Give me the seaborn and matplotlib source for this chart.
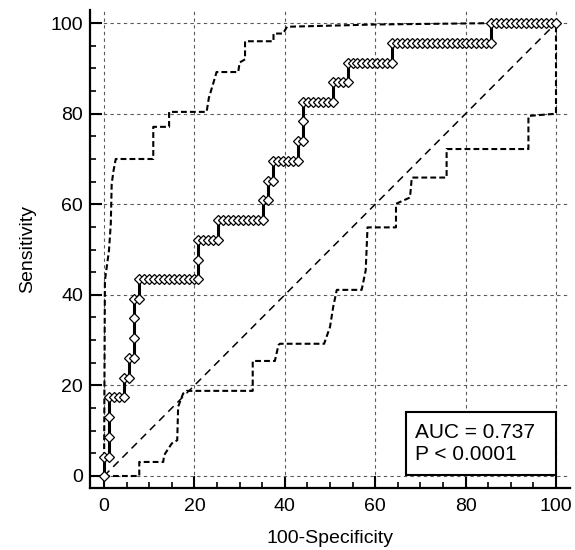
import matplotlib
matplotlib.use("Agg")
import matplotlib.pyplot as plt
import seaborn as sns
from matplotlib.patches import Rectangle
from matplotlib.ticker import MultipleLocator

# ROC curve points (100-Specificity, Sensitivity)
roc_fpr = [0, 0, 1.1, 1.1, 1.1, 1.1, 2.2, 3.3, 4.4, 4.4, 5.5, 5.5, 6.6, 6.6, 6.6, 6.6,
           7.7, 7.7, 8.8, 9.9, 11.0, 12.1, 13.2, 14.3, 15.4, 16.5, 17.6, 18.7, 19.8, 20.9,
           20.9, 20.9, 22.0, 23.1, 24.2, 25.3, 25.3, 26.4, 27.5, 28.6, 29.7, 30.8, 31.9,
           33.0, 34.1, 35.2, 35.2, 36.3, 36.3, 37.4, 37.4, 38.5, 39.6, 40.7, 41.8, 42.9,
           42.9, 44.0, 44.0, 44.0, 45.1, 46.2, 47.3, 48.4, 49.5, 50.6, 50.6, 51.7, 52.8,
           53.9, 53.9, 55.0, 56.0, 57.1, 58.2, 59.3, 60.4, 61.5, 62.6, 63.7, 63.7, 64.8,
           65.9, 67.0, 68.1, 69.2, 70.3, 71.4, 72.5, 73.6, 74.7, 75.8, 76.9, 78.0, 79.1,
           80.2, 81.3, 82.4, 83.5, 84.6, 85.7, 85.7, 86.8, 87.9, 89.0, 90.1, 91.2, 92.3,
           93.4, 94.5, 95.6, 96.7, 97.8, 98.9, 100.0]
roc_tpr = [0, 4.3, 4.3, 8.7, 13.0, 17.4, 17.4, 17.4, 17.4, 21.7, 21.7, 26.1, 26.1, 30.4, 34.8, 39.1,
           39.1, 43.5, 43.5, 43.5, 43.5, 43.5, 43.5, 43.5, 43.5, 43.5, 43.5, 43.5, 43.5, 43.5,
           47.8, 52.2, 52.2, 52.2, 52.2, 52.2, 56.5, 56.5, 56.5, 56.5, 56.5, 56.5, 56.5,
           56.5, 56.5, 56.5, 60.9, 60.9, 65.2, 65.2, 69.6, 69.6, 69.6, 69.6, 69.6, 69.6,
           73.9, 73.9, 78.3, 82.6, 82.6, 82.6, 82.6, 82.6, 82.6, 82.6, 87.0, 87.0, 87.0,
           87.0, 91.3, 91.3, 91.3, 91.3, 91.3, 91.3, 91.3, 91.3, 91.3, 91.3, 95.7, 95.7,
           95.7, 95.7, 95.7, 95.7, 95.7, 95.7, 95.7, 95.7, 95.7, 95.7, 95.7, 95.7, 95.7,
           95.7, 95.7, 95.7, 95.7, 95.7, 95.7, 100, 100, 100, 100, 100, 100, 100,
           100, 100, 100, 100, 100, 100, 100]

# upper confidence bound
upper_x = [0, 0.2, 0.6, 1.1, 1.5, 1.7, 2.1, 2.6, 10.9, 10.9, 14.4, 14.4, 22.7, 23.2, 24.2,
           24.9, 29.7, 30.0, 31.2, 31.2, 37.5, 37.5, 39.6, 40.5, 60.0, 86.0, 100]
upper_y = [0, 43.2, 46.1, 49.8, 55.7, 64.5, 67.4, 70.0, 70.0, 77.1, 77.1, 80.4, 80.4, 83.5, 86.8,
           89.2, 89.2, 91.3, 92.0, 96.0, 96.0, 97.7, 97.7, 99.2, 99.7, 100, 100]

# lower confidence bound
lower_x = [0, 7.8, 7.8, 13.1, 13.3, 15.0, 16.2, 16.4, 17.5, 18.3, 32.9, 32.9, 37.8, 38.6, 38.9,
           48.7, 50.0, 50.7, 51.5, 57.0, 57.9, 58.3, 64.6, 64.6, 67.7, 68.1, 75.8, 75.8,
           93.9, 93.9, 100, 100]
lower_y = [0, 0, 3.1, 3.1, 4.6, 7.2, 7.9, 15.3, 18.2, 18.8, 18.8, 25.4, 25.4, 28.9, 29.2,
           29.2, 32.9, 37.3, 41.1, 41.1, 45.4, 54.9, 54.9, 60.1, 61.5, 65.9, 65.9, 72.2,
           72.2, 79.5, 80.0, 100]

diag = [0, 100]
ticks = [0, 20, 40, 60, 80, 100]

sns.set_theme(style="white")
plt.rcParams['font.family'] = ['Liberation Sans', 'DejaVu Sans']
plt.rcParams['text.color'] = 'black'
plt.rcParams['axes.labelcolor'] = 'black'

fig = plt.figure(figsize=(5.75, 5.5), dpi=100)
ax = fig.add_axes([90 / 575, 62 / 550, 480 / 575, 478 / 550])

ax.set_axisbelow(True)
ax.grid(True, which='major', color='#5a5a5a', linestyle=(0, (3, 3)), linewidth=0.8)

sns.lineplot(x=upper_x, y=upper_y, estimator=None, sort=False, ax=ax,
             color='black', linewidth=1.5, linestyle=(0, (2.8, 1.5)))
sns.lineplot(x=lower_x, y=lower_y, estimator=None, sort=False, ax=ax,
             color='black', linewidth=1.5, linestyle=(0, (2.8, 1.5)))
sns.lineplot(x=diag, y=diag, estimator=None, sort=False, ax=ax,
             color='black', linewidth=1.1, linestyle=(0, (5, 3.5)))
sns.lineplot(x=roc_fpr, y=roc_tpr, estimator=None, sort=False, ax=ax,
             color='black', linewidth=2.2, marker='D', markersize=4.8,
             markerfacecolor='white', markeredgecolor='black', markeredgewidth=0.9)

ax.set_xlim(-3.1, 103.1)
ax.set_ylim(-2.65, 102.9)
ax.set_xticks(ticks)
ax.set_yticks(ticks)
ax.xaxis.set_minor_locator(MultipleLocator(5))
ax.yaxis.set_minor_locator(MultipleLocator(5))
ax.tick_params(which='major', direction='in', length=8.5, width=1.5, colors='black',
               labelsize=14, left=True, bottom=True)
ax.tick_params(axis='x', which='major', pad=7)
ax.tick_params(axis='y', which='major', pad=5)
ax.tick_params(which='minor', direction='in', length=4.5, width=1.2, colors='black',
               left=True, bottom=True)

for side in ['top', 'right']:
    ax.spines[side].set_visible(False)
for side in ['left', 'bottom']:
    ax.spines[side].set_linewidth(1.6)
    ax.spines[side].set_color('black')

ax.set_xlabel("100-Specificity", fontsize=14, labelpad=11)
ax.set_ylabel("Sensitivity", fontsize=14, labelpad=10)

ax.add_patch(Rectangle((66.8, 0.2), 33.2, 14.0, facecolor='white', edgecolor='black',
                       linewidth=1.5, zorder=5))
ax.text(68.8, 7.2, "AUC = 0.737\nP < 0.0001", fontsize=15, va='center', ha='left',
        linespacing=1.15, zorder=6)

fig.savefig("out.png", dpi=100)
